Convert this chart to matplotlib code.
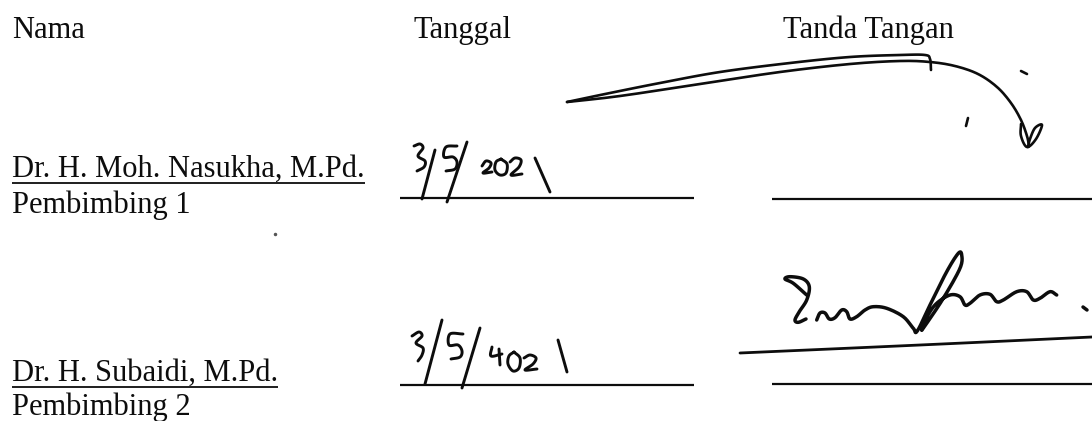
import numpy as np
import matplotlib
matplotlib.use("Agg")
import matplotlib.pyplot as plt

# ---------------- data (image pixel coordinates, y downwards) ----------------
header_labels = ["Nama", "Tanggal", "Tanda Tangan"]
header_x = [12, 413, 783]
header_y = 38

names = ["Dr. H. Moh. Nasukha, M.Pd.", "Dr. H. Subaidi, M.Pd."]
roles = ["Pembimbing 1", "Pembimbing 2"]
name_y = [177, 381]
role_y = [213, 415]

date_line_x = [400, 694]
date_line_y = [198, 385]
sign_line_x = [772, 1092]
sign_line_y = [199, 384]

# handwritten date, row 1 ("3/5/2021")
date1_strokes = [
    [(414, 146), (420, 144), (423, 148), (418, 156), (425, 161), (424, 167), (417, 171)],
    [(422, 199), (435, 150)],
    [(457, 146), (446, 147), (444, 157), (453, 157), (457, 162), (455, 169), (446, 171)],
    [(447, 202), (467, 142)],
    [(482, 166), (486, 161), (491, 163), (489, 168), (483, 173), (492, 172)],
    [(501, 159), (507, 164), (506, 173), (500, 175), (495, 170), (496, 162), (501, 159)],
    [(510, 162), (515, 158), (521, 160), (519, 167), (511, 175), (522, 174)],
    [(535, 158), (550, 192)],
]

# handwritten date, row 2 ("3/5/2021")
date2_strokes = [
    [(412, 336), (419, 332), (422, 336), (416, 343), (423, 348), (422, 355), (418, 361)],
    [(425, 384), (442, 320)],
    [(463, 334), (450, 334), (449, 345), (458, 345), (462, 351), (460, 357), (451, 359)],
    [(462, 388), (480, 328)],
    [(492, 347), (491, 356), (502, 354)],
    [(499, 349), (500, 365)],
    [(514, 352), (520, 358), (519, 368), (513, 371), (508, 364), (509, 356), (514, 352)],
    [(524, 358), (530, 355), (536, 358), (533, 364), (525, 370), (537, 369)],
    [(558, 340), (567, 372)],
]

# signature 1 (long stroke with hook)
sign1_strokes = [
    [(567, 102), (610, 93), (660, 83), (720, 72), (790, 63), (850, 57), (900, 55), (925, 55), (930, 59), (931, 70)],
    [(567, 102), (620, 96), (700, 84), (780, 72), (850, 64), (900, 61), (930, 62), (955, 66),
     (978, 74), (997, 87), (1011, 103), (1021, 120), (1027, 136), (1029, 146)],
    [(1021, 124), (1021, 136), (1027, 147), (1036, 139), (1042, 125), (1035, 128), (1030, 139), (1028, 147)],
    [(1021, 71), (1027, 74)],
    [(966, 126), (968, 118)],
]

# signature 2
sign2_strokes = [
    [(806.7, 295), (793.3, 283.3), (785, 279), (790, 276.7), (803.3, 279), (809.3, 286.7),
     (806.7, 300), (799.3, 311.7), (795, 320), (798.3, 322.3), (806, 319)],
    [(816.7, 320), (820, 313), (825, 313), (829.3, 319), (835, 317.7), (841.7, 310),
     (846.7, 311.7), (850, 319), (856.7, 316.7), (865, 310), (873.3, 306.7), (886.7, 308.3),
     (903.3, 316.7), (913.3, 328.3), (917.3, 331), (930, 305), (946.7, 271.7), (958.3, 253.3),
     (961.7, 255), (960, 268.3), (943.3, 298.3), (926.7, 323.3), (921.7, 330), (928, 315),
     (936.7, 303.3), (950, 295), (960, 296.7), (965, 305), (970, 303.3), (980, 295),
     (990, 294.3), (996.7, 301.7), (1003.3, 300), (1016.7, 291.7), (1026.7, 291.7),
     (1033.3, 300), (1040, 298.3), (1050, 291.7), (1056.7, 295)],
    [(1083, 307), (1087, 310)],
]
sign2_underline = [(740, 353), (920, 345), (1092, 337)]

speck = (275, 234)

INK = "#0d0d0d"
FONT = "Liberation Serif"
FS = 22


def smooth(points, n=12):
    p = np.asarray(points, dtype=float)
    if len(p) < 3:
        return p
    ext = np.vstack([p[0] - (p[1] - p[0]), p, p[-1] + (p[-1] - p[-2])])
    out = []
    t = np.linspace(0, 1, n, endpoint=False)[:, None]
    for i in range(1, len(ext) - 2):
        p0, p1, p2, p3 = ext[i - 1], ext[i], ext[i + 1], ext[i + 2]
        seg = 0.5 * ((2 * p1) + (-p0 + p2) * t + (2 * p0 - 5 * p1 + 4 * p2 - p3) * t ** 2
                     + (-p0 + 3 * p1 - 3 * p2 + p3) * t ** 3)
        out.append(seg)
    out.append(p[-1][None, :])
    return np.vstack(out)


fig = plt.figure(figsize=(10.92, 4.21), dpi=100)
fig.patch.set_facecolor("white")
ax = fig.add_axes([0, 0, 1, 1])
ax.set_xlim(0, 1092)
ax.set_ylim(421, 0)
ax.axis("off")

for lab, x in zip(header_labels, header_x):
    ax.text(x, header_y, lab, fontfamily=FONT, fontsize=FS, color=INK, va="baseline", ha="left")

fig.canvas.draw()
renderer = fig.canvas.get_renderer()
inv = ax.transData.inverted()
for nm, ny, rl, ry in zip(names, name_y, roles, role_y):
    t = ax.text(12, ny, nm, fontfamily=FONT, fontsize=FS, color=INK, va="baseline", ha="left")
    ax.text(12, ry, rl, fontfamily=FONT, fontsize=FS, color=INK, va="baseline", ha="left")
    bb = t.get_window_extent(renderer)
    x0 = inv.transform((bb.x0, bb.y0))[0]
    x1 = inv.transform((bb.x1, bb.y0))[0]
    ax.plot([x0, x1], [ny + 6, ny + 6], color=INK, lw=1.3, solid_capstyle="butt")

for y in date_line_y:
    ax.plot(date_line_x, [y, y], color=INK, lw=1.6, solid_capstyle="butt")
for y in sign_line_y:
    ax.plot(sign_line_x, [y, y], color=INK, lw=1.6, solid_capstyle="butt")

for strokes, lw in [(date1_strokes, 2.1), (date2_strokes, 2.1), (sign1_strokes, 1.9), (sign2_strokes, 2.5)]:
    for s in strokes:
        c = smooth(s)
        ax.plot(c[:, 0], c[:, 1], color=INK, lw=lw, solid_capstyle="round", solid_joinstyle="round")

c = smooth(sign2_underline)
ax.plot(c[:, 0], c[:, 1], color=INK, lw=2.0, solid_capstyle="round")
ax.plot([speck[0]], [speck[1]], marker="o", ms=1.5, color="#555555")

fig.savefig("out.png", dpi=100, facecolor="white")
